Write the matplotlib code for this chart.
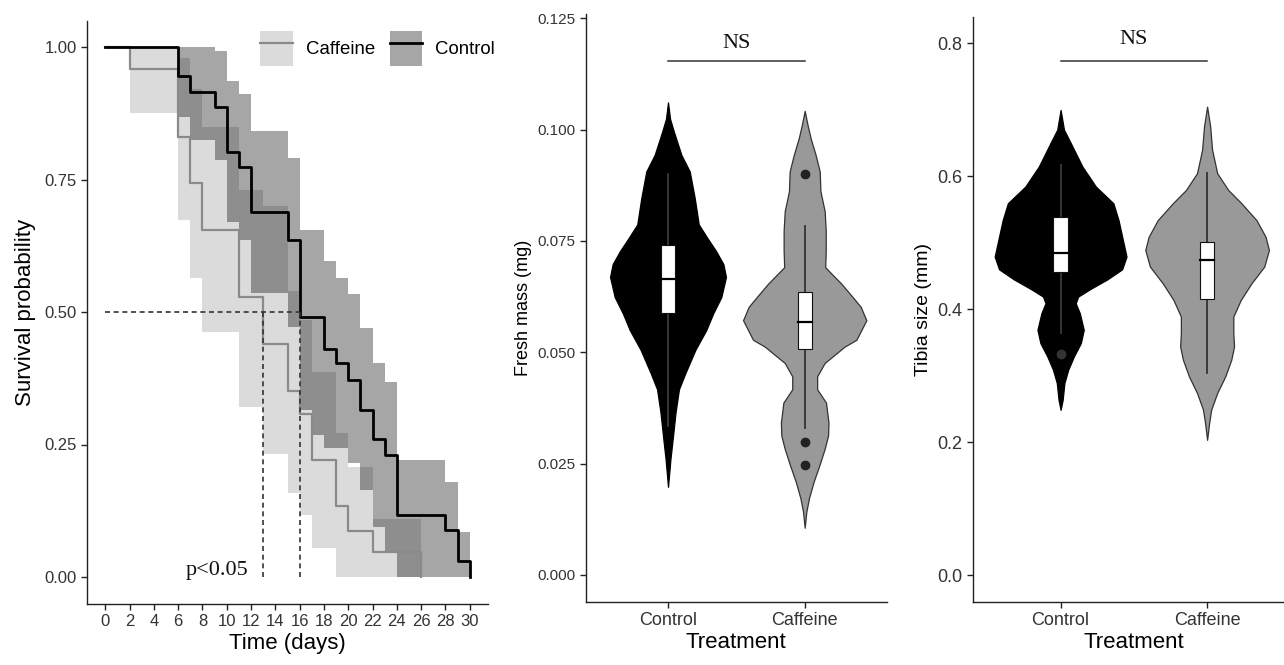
import matplotlib
matplotlib.use("Agg")
import numpy as np
import matplotlib.pyplot as plt
from matplotlib.patches import Patch, Rectangle
from matplotlib.lines import Line2D
from matplotlib.legend_handler import HandlerTuple

plt.rcParams['font.family'] = ['Liberation Sans', 'DejaVu Sans']
SERIF = ['Liberation Serif', 'DejaVu Serif']

# ---------------- survival data ----------------
ctrl_time = [0, 6, 7, 9, 10, 11, 12, 15, 16, 18, 19, 20, 21, 22, 23, 24, 28, 29, 30]
ctrl_surv = [1.0, 0.945, 0.916, 0.887, 0.802, 0.774, 0.688, 0.635, 0.491, 0.431,
             0.403, 0.372, 0.316, 0.260, 0.230, 0.117, 0.089, 0.031, 0.0]
ctrl_up_time = [6, 9, 10, 11, 12, 15, 16, 18, 19, 20, 21, 22, 23, 24, 28, 29, 30]
ctrl_upper = [1.0, 0.992, 0.935, 0.911, 0.842, 0.790, 0.655, 0.596, 0.564, 0.534,
              0.470, 0.403, 0.368, 0.221, 0.180, 0.085, 0.085]
ctrl_lo_time = [6, 7, 9, 10, 11, 12, 15, 16, 17, 18, 20, 21, 22, 23, 24, 30]
ctrl_lower = [0.867, 0.825, 0.787, 0.670, 0.636, 0.535, 0.472, 0.315, 0.268, 0.243,
              0.215, 0.164, 0.095, 0.050, 0.0, 0.0]

caf_time = [0, 2, 6, 7, 8, 11, 13, 15, 16, 17, 19, 20, 22, 26]
caf_surv = [1.0, 0.958, 0.831, 0.743, 0.655, 0.529, 0.440, 0.351, 0.307, 0.221,
            0.134, 0.087, 0.048, 0.0]
caf_ci_time = [2, 6, 7, 8, 11, 13, 15, 16, 17, 19, 20, 22, 26]
caf_upper = [1.0, 0.98, 0.92, 0.85, 0.73, 0.70, 0.54, 0.485, 0.387, 0.272, 0.207, 0.11, 0.11]
caf_lower = [0.875, 0.674, 0.564, 0.463, 0.321, 0.233, 0.158, 0.117, 0.054, 0.0, 0.0, 0.0, 0.0]

median_ctrl = 16
median_caf = 13

# ---------------- violin data (value, half width) ----------------
groups = ['Control', 'Caffeine']

fm_ctrl_y = [0.1061, 0.1024, 0.0995, 0.0943, 0.0906, 0.0847, 0.0787, 0.0758, 0.0728, 0.0698,
             0.0669, 0.0624, 0.0587, 0.0550, 0.0506, 0.0454, 0.0417, 0.0365, 0.0313, 0.0261, 0.0198]
fm_ctrl_w = [0.0, 0.015, 0.043, 0.098, 0.159, 0.195, 0.225, 0.285, 0.350, 0.405,
             0.424, 0.39, 0.330, 0.280, 0.201, 0.128, 0.080, 0.055, 0.037, 0.018, 0.0]
fm_caf_y = [0.1042, 0.1009, 0.0980, 0.0943, 0.0906, 0.0862, 0.0817, 0.0773, 0.0728, 0.0691,
            0.0654, 0.0624, 0.0602, 0.0572, 0.0528, 0.0513, 0.0476, 0.0446, 0.0417, 0.0387,
            0.0342, 0.0313, 0.0283, 0.0246, 0.0209, 0.0172, 0.0142, 0.0106]
fm_caf_w = [0.0, 0.022, 0.044, 0.080, 0.110, 0.115, 0.146, 0.154, 0.154, 0.150,
            0.268, 0.351, 0.41, 0.451, 0.378, 0.293, 0.146, 0.091, 0.091, 0.156,
            0.174, 0.171, 0.146, 0.107, 0.065, 0.031, 0.012, 0.0]

tb_ctrl_y = [0.6997, 0.670, 0.650, 0.6145, 0.5844, 0.5594, 0.5343, 0.5042, 0.4791, 0.460,
             0.445, 0.430, 0.419, 0.409, 0.394, 0.369, 0.349, 0.329, 0.309, 0.289, 0.2636, 0.2486]
tb_ctrl_w = [0.0, 0.023, 0.069, 0.149, 0.241, 0.360, 0.395, 0.425, 0.45, 0.420,
             0.320, 0.200, 0.120, 0.103, 0.131, 0.158, 0.138, 0.091, 0.052, 0.026, 0.014, 0.0]
tb_caf_y = [0.7047, 0.675, 0.640, 0.6045, 0.5794, 0.5594, 0.534, 0.509, 0.489, 0.464,
            0.439, 0.414, 0.389, 0.364, 0.344, 0.324, 0.299, 0.274, 0.249, 0.229, 0.2035]
tb_caf_w = [0.0, 0.021, 0.034, 0.069, 0.144, 0.234, 0.337, 0.399, 0.422, 0.390,
            0.303, 0.230, 0.179, 0.179, 0.184, 0.165, 0.124, 0.069, 0.028, 0.014, 0.0]

# box stats: whisker low, q1, median, q3, whisker high
fm_ctrl_box = [0.0335, 0.0588, 0.0665, 0.0741, 0.0900]
fm_caf_box = [0.0331, 0.0507, 0.0568, 0.0635, 0.0783]
fm_caf_out = [0.0900, 0.0298, 0.0248]
tb_ctrl_box = [0.364, 0.4566, 0.4842, 0.5383, 0.617]
tb_caf_box = [0.3038, 0.415, 0.4741, 0.5017, 0.6054]
tb_ctrl_out = [0.332]

fig = plt.figure(figsize=(12.84, 6.65), dpi=100)
W, H = 1284, 665


def place(l, r, t, b):
    return fig.add_axes([l / W, (H - b) / H, (r - l) / W, (b - t) / H])


def style(ax, tsize):
    for s in ['top', 'right']:
        ax.spines[s].set_visible(False)
    for s in ['left', 'bottom']:
        ax.spines[s].set_color('#222222')
        ax.spines[s].set_linewidth(1.0)
    ax.tick_params(colors='#222222', labelcolor='#333333', labelsize=tsize, length=4, width=1.0)


def steps(times, vals, grid):
    # value of a right-continuous step function at each grid point
    return np.array([vals[np.searchsorted(times, t, side='right') - 1] for t in grid])


# ---------------- panel 1: survival ----------------
ax1 = place(87, 488, 20.5, 603.5)
style(ax1, 12)
ax1.fill_between(caf_ci_time, caf_lower, caf_upper, step='post', color='#999999', alpha=0.35, lw=0)
tt = np.union1d(ctrl_up_time, ctrl_lo_time)
ax1.fill_between(tt, steps(ctrl_lo_time, ctrl_lower, tt), steps(ctrl_up_time, ctrl_upper, tt),
                 step='post', color='black', alpha=0.35, lw=0)

ax1.step(caf_time, caf_surv, where='post', color='#8a8a8a', lw=1.6)
ax1.step(ctrl_time, ctrl_surv, where='post', color='black', lw=2.0)

ls = (0, (3, 2.2))
ax1.plot([0, median_ctrl], [0.5, 0.5], color='#333333', lw=1.2, ls=ls)
ax1.plot([median_caf, median_caf], [0, 0.5], color='#333333', lw=1.2, ls=ls)
ax1.plot([median_ctrl, median_ctrl], [0, 0.5], color='#333333', lw=1.2, ls=ls)
ax1.text(9.2, 0.012, 'p<0.05', family=SERIF, fontsize=16, ha='center', va='center', color='#111111')

ax1.set_xlim(-1.5, 31.5)
ax1.set_ylim(-0.05, 1.05)
ax1.set_xticks(range(0, 31, 2))
ax1.set_yticks([0, 0.25, 0.5, 0.75, 1.0])
ax1.set_yticklabels(['0.00', '0.25', '0.50', '0.75', '1.00'])
ax1.set_xlabel('Time (days)', fontsize=16, labelpad=3)
ax1.set_ylabel('Survival probability', fontsize=16, labelpad=6)

h_caf = (Patch(facecolor='#999999', alpha=0.35, lw=0), Line2D([], [], color='#8a8a8a', lw=1.6))
h_ctl = (Patch(facecolor='black', alpha=0.35, lw=0), Line2D([], [], color='black', lw=2.0))
ax1.legend([h_caf, h_ctl], ['Caffeine', 'Control'],
           handler_map={tuple: HandlerTuple(ndivide=1, pad=0)},
           ncol=2, frameon=False, fontsize=13.4, loc='upper left',
           bbox_to_anchor=(260 / W, 1 - 31 / H), bbox_transform=fig.transFigure,
           handlelength=1.75, handleheight=2.5, handletextpad=0.7, columnspacing=0.8,
           borderaxespad=0, borderpad=0)


# ---------------- violin helper ----------------
def violin(ax, x, ys, ws, box, face, edge, wcol, outliers=(), ocol='#222222'):
    left = [x - w for w in ws]
    right = [x + w for w in ws]
    ax.fill_betweenx(ys, left, right, facecolor=face, edgecolor=edge, lw=0.9, zorder=2)
    lo, q1, med, q3, hi = box
    ax.plot([x, x], [q3, hi], color=wcol, lw=1.3, zorder=3)
    ax.plot([x, x], [lo, q1], color=wcol, lw=1.3, zorder=3)
    bw = 0.05
    ax.add_patch(Rectangle((x - bw, q1), 2 * bw, q3 - q1, facecolor='white',
                           edgecolor='#111111', lw=0.8, zorder=4))
    ax.plot([x - bw, x + bw], [med, med], color='black', lw=1.6, zorder=5)
    for o in outliers:
        ax.plot(x, o, 'o', ms=6, color=ocol, zorder=5)


def ns(ax, y_line, y_text):
    ax.plot([1, 2], [y_line, y_line], color='#333333', lw=1.1)
    ax.text(1.5, y_text, 'NS', family=SERIF, fontsize=16, ha='center', va='center', color='#111111')


# ---------------- panel 2: fresh mass ----------------
ax2 = place(586, 886.7, 13.8, 601.7)
style(ax2, 11)
violin(ax2, 1, fm_ctrl_y, fm_ctrl_w, fm_ctrl_box, 'black', 'black', '#3a3a3a')
violin(ax2, 2, fm_caf_y, fm_caf_w, fm_caf_box, '#999999', '#333333', '#333333', fm_caf_out)
ns(ax2, 0.1154, 0.1194)
ax2.set_xlim(0.4, 2.6)
ax2.set_ylim(-0.006, 0.126)
ax2.set_xticks([1, 2])
ax2.set_xticklabels(groups, fontsize=13)
ax2.set_yticks([0, 0.025, 0.05, 0.075, 0.1, 0.125])
ax2.set_yticklabels(['0.000', '0.025', '0.050', '0.075', '0.100', '0.125'])
ax2.set_xlabel('Treatment', fontsize=16, labelpad=2)
ax2.set_ylabel('Fresh mass (mg)', fontsize=13, labelpad=4)

# ---------------- panel 3: tibia size ----------------
ax3 = place(972.7, 1295, 16.7, 601.7)
style(ax3, 13)
violin(ax3, 1, tb_ctrl_y, tb_ctrl_w, tb_ctrl_box, 'black', 'black', '#3a3a3a', tb_ctrl_out, ocol='#333333')
violin(ax3, 2, tb_caf_y, tb_caf_w, tb_caf_box, '#999999', '#333333', '#333333')
ns(ax3, 0.7734, 0.805)
ax3.set_xlim(0.4, 2.6)
ax3.set_ylim(-0.04, 0.84)
ax3.set_xticks([1, 2])
ax3.set_xticklabels(groups, fontsize=13)
ax3.set_yticks([0, 0.2, 0.4, 0.6, 0.8])
ax3.set_yticklabels(['0.0', '0.2', '0.4', '0.6', '0.8'])
ax3.set_xlabel('Treatment', fontsize=16, labelpad=2)
ax3.set_ylabel('Tibia size (mm)', fontsize=14, labelpad=4)

fig.savefig('out.png', dpi=100)
